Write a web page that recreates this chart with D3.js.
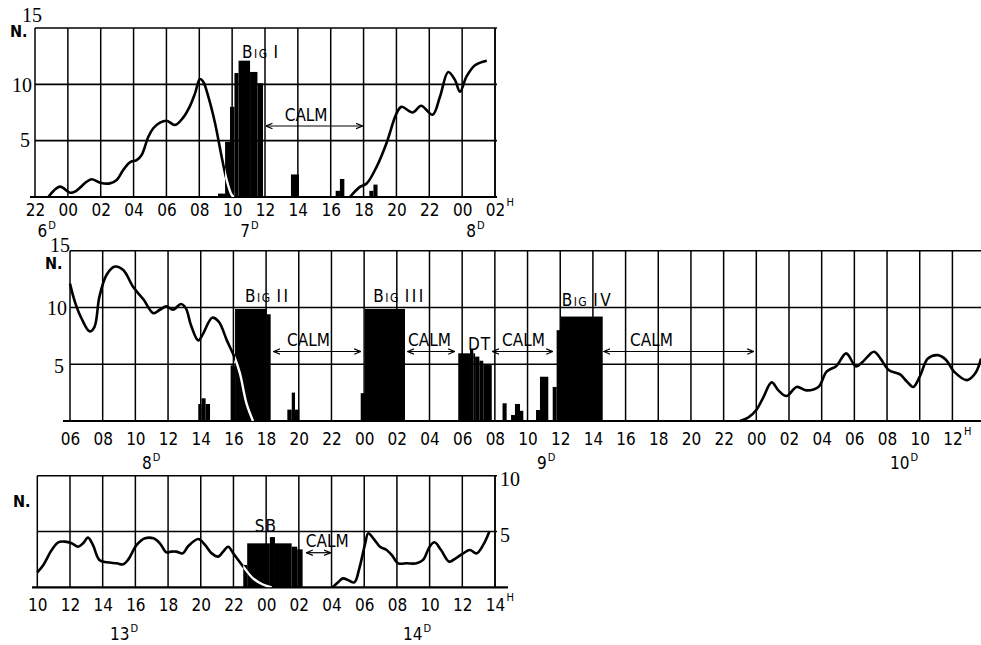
<!DOCTYPE html>
<html>
<head>
<meta charset="utf-8">
<script src="https://cdn.jsdelivr.net/npm/d3@7"></script>
<style>
  body { margin: 0; background: #fff; }
  svg { display: block; }
  .lab { font-family: "Liberation Sans Narrow", "DejaVu Sans Condensed", sans-serif; fill: #000; }
  .num { font-family: "Liberation Serif", "DejaVu Serif", serif; fill: #000; }
</style>
</head>
<body>
<svg id="chart" width="981" height="645"></svg>
<script>
// ---- panel 1 : 6th 22h -> 8th 02h (hours counted from 00h of the 7th)
const p1Ticks = ["22","00","02","04","06","08","10","12","14","16","18","20","22","00","02"];
const p1Days = ["6", "7", "8"];
const p1DayHours = [-1.85, 10.5, 24.25];
const p1CurveA = [[-1.19,0],[-0.48,0.92],[0.13,0.38],[0.43,0.47],[1.15,1.36],[1.45,1.57],[1.96,1.27],
  [2.56,1.21],[2.97,1.51],[3.37,2.4],[3.78,3.08],[4.19,3.28],[4.49,3.73],[4.9,5.35],[5.2,6.1],[5.61,6.6],
  [6.02,6.77],[6.52,6.39],[7.03,7.07],[7.43,8.07],[7.74,9.2],[8.04,10.47],[8.24,10.23],[8.55,8.9],
  [8.96,6.54],[9.36,3.58],[9.67,1.5],[9.97,0.18],[10.1,0]];
const p1CurveB = [[17.17,0],[17.78,0.9],[18.19,1.2],[18.8,2.7],[19.4,4.8],[20.0,7.4],[20.3,8.0],[21.0,7.5],
  [21.5,8.1],[22.2,7.3],[22.65,8.9],[23.15,11.1],[23.56,10.4],[23.87,9.35],[24.27,10.7],[24.78,11.7],[25.5,12.1]];
const p1Bars = [[9.14,9.57,0.3],[9.57,9.87,4.9],[9.87,10.14,8.0],[10.14,10.39,11.0],[10.39,11.09,12.1],
  [11.09,11.54,11.1],[11.54,11.88,10.1],[13.58,14.07,2.0],[16.3,16.56,0.55],[16.56,16.83,1.6],
  [18.35,18.6,0.55],[18.6,18.85,1.1]];
const p1Calm = [[12.0,18.0]];
const p1CalmText = [13.2];
const p1Events = ["BIG I"];
const p1EventHours = [10.6];
const p1EventLevels = [12.35];

// ---- panel 2 : 8th 06h -> 10th 13h (hours from 00h of the 8th)
const p2Ticks = ["06","08","10","12","14","16","18","20","22","00","02","04","06","08","10","12",
  "14","16","18","20","22","00","02","04","06","08","10","12"];
const p2Days = ["8", "9", "10"];
const p2DayHours = [10.4, 34.58, 56.18];
const p2CurveA = [[6,12.1],[6.3,10.5],[6.7,9.05],[7.2,7.9],[7.5,8.3],[7.8,10.95],[8.25,12.9],[8.75,13.6],
  [9.26,13.3],[9.87,11.8],[10.5,10.7],[11.1,9.5],[11.5,9.8],[11.9,10.1],[12.3,9.8],[12.8,10.3],[13.1,9.9],
  [13.4,8.45],[13.85,7.1],[14.15,7.7],[14.7,9.1],[15.1,8.75],[15.6,7.1],[16.1,5.5],[16.4,4.2],[16.8,1.55],[17.2,0]];
const p2CurveB = [[47.0,0],[47.5,0.3],[48.0,0.97],[48.4,2.0],[48.94,3.4],[49.35,2.7],[49.85,2.2],[50.47,3.0],
  [51.08,2.7],[51.8,3.0],[52.3,4.35],[52.9,4.85],[53.5,5.96],[54.1,4.8],[54.5,5.2],[55.2,6.1],[55.6,5.5],
  [56.1,4.5],[56.8,4.1],[57.2,3.5],[57.6,3.0],[58.0,3.9],[58.5,5.5],[59.1,5.8],[59.6,5.4],[60.1,4.35],
  [60.9,3.6],[61.4,4.2],[61.75,5.5]];
const p2Bars = [[13.85,14.05,1.5],[14.05,14.3,2.0],[14.3,14.57,1.5],
  [15.83,16.1,4.9],[16.1,18.04,9.87],[18.04,18.28,9.4],
  [19.3,19.57,1.0],[19.57,19.77,2.5],[19.77,20.03,1.0],
  [23.79,24.05,2.45],[24.05,26.5,9.87],
  [29.76,30.48,5.96],[30.48,30.68,6.34],[30.68,30.79,5.96],[30.79,31.05,5.67],[31.05,31.29,5.31],[31.29,31.81,4.93],
  [32.47,32.72,1.56],[32.99,33.23,0.53],[33.23,33.54,1.5],[33.54,33.74,0.9],
  [34.52,34.76,0.97],[34.76,35.27,3.9],
  [35.54,35.78,3.0],[35.78,36.03,8.0],[36.03,38.6,9.2]];
const p2Calm = [[18.4,23.85],[26.6,29.6],[31.8,35.6],[38.6,47.9]];
const p2CalmText = [19.28, 26.69, 32.44, 40.27];
const p2Events = ["BIG II", "BIG III", "DT", "BIG IV"];
const p2EventHours = [16.71, 24.56, 30.36, 36.09];
const p2EventLevels = [10.5, 10.5, 6.25, 10.1];

// ---- panel 3 : 13th 10h -> 14th 14h (hours from 00h of the 13th)
const p3Ticks = ["10","12","14","16","18","20","22","00","02","04","06","08","10","12","14"];
const p3Days = ["13", "14"];
const p3DayHours = [14.45, 32.37];
const p3CurveA = [[10,1.34],[10.37,2.0],[10.88,3.34],[11.28,4.03],[11.7,4.09],[12.1,3.94],[12.5,3.64],
  [12.8,3.94],[13.1,4.45],[13.4,3.8],[13.8,2.45],[14.25,2.24],[14.86,2.15],[15.26,2.06],[15.57,2.5],
  [16.08,3.8],[16.59,4.39],[17.1,4.39],[17.5,3.94],[17.9,3.13],[18.2,3.2],[18.5,3.2],[18.9,3.04],
  [19.24,3.7],[19.85,4.33],[20.26,3.8],[20.67,3.04],[21.07,2.75],[21.37,3.2],[21.68,3.64],[21.99,3.04],
  [22.6,1.85],[23.2,0.8],[23.8,0.25],[24.34,0]];
const p3CurveB = [[28.07,0],[28.4,0.45],[28.7,0.8],[29.0,0.66],[29.4,0.45],[29.7,1.7],[30.04,3.8],
  [30.25,4.84],[30.55,4.39],[30.96,3.64],[31.37,3.34],[31.68,2.9],[32.08,2.15],[32.6,2.15],[33.2,2.15],
  [33.6,2.45],[34.0,3.64],[34.3,4.03],[34.7,3.34],[35.2,2.3],[35.6,2.6],[36.05,3.04],[36.46,3.34],
  [36.87,3.04],[37.28,3.8],[37.65,4.98]];
const p3Bars = [[22.6,22.84,2.0],[22.84,24.23,3.94],[24.23,24.54,4.5],[24.54,25.56,3.94],
  [25.56,25.9,3.64],[25.9,26.23,3.4]];
const p3Calm = [[26.4,28.0]];
const p3CalmText = [26.43];
const p3Events = ["SB"];
const p3EventHours = [23.31];
const p3EventLevels = [4.98];

// panel layout (pixels) + data hookup
const panels = [
  { left: 35, right: 495, top: 28, bottom: 197, domain: [-2, 26], vmax: 15, grid: [5, 10, 15],
    axisLeft: 30, axisRight: 497, pad: 7, dayBase: 237, rightBorder: true,
    ylab: [["15", 42, 22], ["10", 32, 92], ["5", 30, 147]], ylabAnchor: "end", nlab: [10, 37],
    ticks: p1Ticks, days: p1Days, dayHours: p1DayHours, curves: [p1CurveA, p1CurveB], bars: p1Bars,
    calm: p1Calm, calmText: p1CalmText, calmLevel: 6.3,
    events: p1Events, eventHours: p1EventHours, eventLevels: p1EventLevels },
  { left: 70, right: 981, top: 250.7, bottom: 421, domain: [6, 61.75], vmax: 15, grid: [5, 10, 15],
    axisLeft: 63, axisRight: 981, pad: 12, dayBase: 469, rightBorder: false,
    ylab: [["15", 70, 252], ["10", 67, 315], ["5", 64, 373]], ylabAnchor: "end", nlab: [45, 269],
    ticks: p2Ticks, days: p2Days, dayHours: p2DayHours, curves: [p2CurveA, p2CurveB], bars: p2Bars,
    calm: p2Calm, calmText: p2CalmText, calmLevel: 6.12,
    events: p2Events, eventHours: p2EventHours, eventLevels: p2EventLevels },
  { left: 37.3, right: 495, top: 475.7, bottom: 587.3, domain: [10, 38], vmax: 10, grid: [5, 10],
    axisLeft: 32, axisRight: 508, pad: 12, dayBase: 640, rightBorder: true,
    ylab: [["10", 500, 486], ["5", 500, 542]], ylabAnchor: "start", nlab: [13, 507],
    ticks: p3Ticks, days: p3Days, dayHours: p3DayHours, curves: [p3CurveA, p3CurveB], bars: p3Bars,
    calm: p3Calm, calmText: p3CalmText, calmLevel: 3.1,
    events: p3Events, eventHours: p3EventHours, eventLevels: p3EventLevels }
];

const svg = d3.select("#chart");
const defs = svg.append("defs");

// small open arrow heads for the CALM spans
defs.append("marker")
  .attr("id", "arr")
  .attr("viewBox", "0 0 7 7")
  .attr("refX", 6.5).attr("refY", 3.5)
  .attr("markerWidth", 7).attr("markerHeight", 7)
  .attr("markerUnits", "userSpaceOnUse")
  .attr("orient", "auto-start-reverse")
  .append("path")
    .attr("d", "M0,0.8 L6.5,3.5 L0,6.2")
    .attr("fill", "none").attr("stroke", "#000").attr("stroke-width", 1.2);

function drawPanel(p, idx) {
  const g = svg.append("g");
  const x = d3.scaleLinear().domain(p.domain).range([p.left, p.right]);
  const y = d3.scaleLinear().domain([0, p.vmax]).range([p.bottom, p.top]);
  const tickHours = p.ticks.map((d, i) => p.domain[0] + 2 * i);

  // grid
  g.selectAll(".vg").data(tickHours).join("line")
    .attr("x1", d => x(d)).attr("x2", d => x(d))
    .attr("y1", y(p.vmax)).attr("y2", y(0))
    .attr("stroke", "#000").attr("stroke-width", 1.5);
  g.selectAll(".hg").data(p.grid).join("line")
    .attr("x1", x(p.domain[0])).attr("x2", p.rightBorder ? x(p.domain[1]) + 2 : x(p.domain[1]))
    .attr("y1", d => y(d)).attr("y2", d => y(d))
    .attr("stroke", "#000").attr("stroke-width", 1.6);
  if (p.rightBorder) {
    g.append("line")
      .attr("x1", x(p.domain[1])).attr("x2", x(p.domain[1]))
      .attr("y1", y(p.vmax)).attr("y2", y(0))
      .attr("stroke", "#000").attr("stroke-width", 1.5);
  }

  // bars
  g.selectAll(".bar").data(p.bars).join("rect")
    .attr("x", d => x(d[0])).attr("width", d => x(d[1]) - x(d[0]))
    .attr("y", d => y(d[2])).attr("height", d => y(0) - y(d[2]))
    .attr("fill", "#000");

  // clip made of the bars, so the curve turns white inside them
  defs.append("clipPath").attr("id", "bars" + idx)
    .selectAll("rect").data(p.bars).join("rect")
      .attr("x", d => x(d[0])).attr("width", d => x(d[1]) - x(d[0]))
      .attr("y", d => y(d[2])).attr("height", d => y(0) - y(d[2]));

  // bottom axis
  const axis = d3.axisBottom(x)
    .tickValues(tickHours)
    .tickSize(0)
    .tickPadding(p.pad)
    .tickFormat((d, i) => p.ticks[i]);
  const ax = g.append("g")
    .attr("transform", `translate(0,${y(0)})`)
    .call(axis);
  ax.select(".domain").remove();
  ax.selectAll("text").attr("class", "lab").attr("font-size", 17);
  ax.select(".tick:last-of-type").append("text")
    .attr("class", "lab").attr("font-size", 11)
    .attr("text-anchor", "start")
    .attr("x", 11).attr("y", p.pad + 2)
    .text("H");
  g.append("line")
    .attr("x1", p.axisLeft).attr("x2", p.axisRight)
    .attr("y1", y(0)).attr("y2", y(0))
    .attr("stroke", "#000").attr("stroke-width", 2.2);

  // curves
  const line = d3.line()
    .x(d => x(d[0])).y(d => y(d[1]))
    .curve(d3.curveCatmullRom.alpha(0.5));
  g.selectAll(".curve").data(p.curves).join("path")
    .attr("d", line)
    .attr("fill", "none").attr("stroke", "#000").attr("stroke-width", 2.6)
    .attr("stroke-linejoin", "round");
  g.selectAll(".curvew").data(p.curves).join("path")
    .attr("d", line)
    .attr("clip-path", `url(#bars${idx})`)
    .attr("fill", "none").attr("stroke", "#fff").attr("stroke-width", 2.4);

  // calm spans
  const cy = y(p.calmLevel);
  g.selectAll(".calm").data(p.calm).join("line")
    .attr("x1", d => x(d[0]) + 1).attr("x2", d => x(d[1]) - 1)
    .attr("y1", cy).attr("y2", cy)
    .attr("stroke", "#000").attr("stroke-width", 1.2)
    .attr("marker-start", "url(#arr)").attr("marker-end", "url(#arr)");
  g.selectAll(".calmt").data(p.calmText).join("text")
    .attr("class", "lab").attr("font-size", 17)
    .attr("x", d => x(d)).attr("y", cy - 5.5)
    .text("CALM");

  // event labels (BIG I ... , DT, SB)
  p.events.forEach((name, i) => {
    const t = g.append("text").attr("class", "lab")
      .attr("x", x(p.eventHours[i])).attr("y", y(p.eventLevels[i]))
      .attr("font-size", 17);
    if (name.startsWith("BIG")) {
      t.append("tspan").text("B");
      t.append("tspan").attr("font-size", 12).attr("letter-spacing", 1.5).attr("dx", 1.5).text("IG");
      t.append("tspan").attr("letter-spacing", 2.5).attr("dx", 5).text(name.slice(4));
    } else {
      t.attr("letter-spacing", 1).text(name);
    }
  });

  // day labels
  p.days.forEach((dname, i) => {
    const t = g.append("text").attr("class", "lab")
      .attr("x", x(p.dayHours[i])).attr("y", p.dayBase)
      .attr("font-size", 17);
    t.append("tspan").text(dname);
    t.append("tspan").attr("font-size", 11).attr("dy", -8).attr("dx", 1).text("D");
  });

  // value labels
  g.selectAll(".ylab").data(p.ylab).join("text")
    .attr("class", "num").attr("font-size", 20)
    .attr("text-anchor", p.ylabAnchor)
    .attr("x", d => d[1]).attr("y", d => d[2])
    .text(d => d[0]);
  g.append("text").attr("class", "lab").attr("font-size", 16).attr("font-weight", "bold")
    .attr("x", p.nlab[0]).attr("y", p.nlab[1])
    .text("N.");
}

panels.forEach(drawPanel);
</script>
</body>
</html>
